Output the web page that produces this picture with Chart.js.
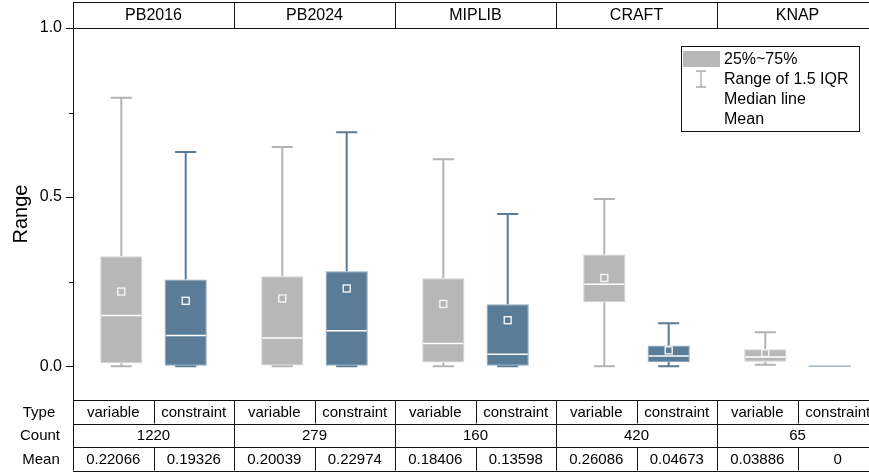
<!DOCTYPE html>
<html>
<head>
<meta charset="utf-8">
<script src="https://cdn.jsdelivr.net/npm/chart.js@4/dist/chart.umd.min.js"></script>
<style>
  html, body { margin: 0; padding: 0; overflow: hidden; background: #fff; }
  canvas { display: block; }
</style>
</head>
<body>
<canvas id="c" width="878" height="474"></canvas>
<script>
// Benchmark sets and the two element types compared in each
const categories = ['PB2016', 'PB2024', 'MIPLIB', 'CRAFT', 'KNAP'];
const types = ['variable', 'constraint'];
const counts = [1220, 279, 160, 420, 65];

// Box statistics for "variable"
const varLow    = [0.000, 0.000, 0.000, 0.000, 0.004];
const varQ1     = [0.009, 0.002, 0.011, 0.189, 0.013];
const varMedian = [0.150, 0.083, 0.067, 0.242, 0.027];
const varQ3     = [0.325, 0.266, 0.260, 0.330, 0.050];
const varHigh   = [0.794, 0.648, 0.612, 0.494, 0.100];
const varMean   = [0.22066, 0.20039, 0.18406, 0.26086, 0.03886];

// Box statistics for "constraint"
const conLow    = [0.000, 0.000, 0.000, 0.000, 0.000];
const conQ1     = [0.000, 0.000, 0.000, 0.012, 0.000];
const conMedian = [0.091, 0.105, 0.035, 0.030, 0.000];
const conQ3     = [0.256, 0.281, 0.183, 0.061, 0.000];
const conHigh   = [0.633, 0.692, 0.450, 0.127, 0.000];
const conMean   = [0.19326, 0.22974, 0.13598, 0.04673, 0];

// Y axis ticks (minor ticks carry empty labels)
const yTickValues = [0, 0.25, 0.5, 0.75, 1.0];
const yTickLabels = ['0.0', '', '0.5', '', '1.0'];

const FONT = '"Liberation Sans", Arial, Helvetica, sans-serif';
const GRAY = '#b7b7b7';
const GRAY_LINE = '#b3b3b3';
const GRAY_EDGE = '#d2d2d2';
const BLUE = '#5a7c97';
const BLUE_LINE = '#5b7b97';
const BLUE_EDGE = '#8ea6b8';

const stats = [
  { low: varLow, q1: varQ1, med: varMedian, q3: varQ3, high: varHigh, mean: varMean, line: GRAY_LINE, edge: GRAY_EDGE },
  { low: conLow, q1: conQ1, med: conMedian, q3: conQ3, high: conHigh, mean: conMean, line: BLUE_LINE, edge: BLUE_EDGE }
];

function px(v) { return Math.round(v) + 0.5; }

const boxExtras = {
  id: 'boxExtras',
  beforeDatasetsDraw(chart) {
    const ctx = chart.ctx, y = chart.scales.y;
    ctx.save();
    stats.forEach((s, di) => {
      const meta = chart.getDatasetMeta(di);
      meta.data.forEach((bar, i) => {
        const x = bar.x, w = bar.width;
        if (s.high[i] === s.low[i]) {
          // degenerate distribution: a single faint line
          ctx.strokeStyle = s.edge;
          ctx.lineWidth = 1.2;
          ctx.beginPath();
          ctx.moveTo(x - w / 2, y.getPixelForValue(s.low[i]));
          ctx.lineTo(x + w / 2, y.getPixelForValue(s.low[i]));
          ctx.stroke();
          return;
        }
        ctx.strokeStyle = s.line;
        ctx.lineWidth = 2;
        const yHi = y.getPixelForValue(s.high[i]);
        const yLo = y.getPixelForValue(s.low[i]);
        const yQ3 = y.getPixelForValue(s.q3[i]);
        const yQ1 = y.getPixelForValue(s.q1[i]);
        ctx.beginPath();
        ctx.moveTo(x, yQ3); ctx.lineTo(x, yHi);
        ctx.moveTo(x, yQ1); ctx.lineTo(x, yLo);
        ctx.moveTo(x - w / 4, yHi); ctx.lineTo(x + w / 4, yHi);
        ctx.moveTo(x - w / 4, yLo); ctx.lineTo(x + w / 4, yLo);
        ctx.stroke();
      });
    });
    ctx.restore();
  },
  afterDatasetsDraw(chart) {
    const ctx = chart.ctx, y = chart.scales.y;
    ctx.save();
    stats.forEach((s, di) => {
      const meta = chart.getDatasetMeta(di);
      meta.data.forEach((bar, i) => {
        if (s.q3[i] === s.q1[i]) return;
        const x = bar.x, w = bar.width;
        // median line
        ctx.strokeStyle = '#ffffff';
        ctx.lineWidth = 1.5;
        const ym = y.getPixelForValue(s.med[i]);
        ctx.beginPath();
        ctx.moveTo(x - w / 2 + 1, ym); ctx.lineTo(x + w / 2 - 1, ym);
        ctx.stroke();
        // mean marker
        const ymean = y.getPixelForValue(s.mean[i]);
        ctx.lineWidth = 1.4;
        ctx.strokeStyle = '#f4f4f4';
        ctx.strokeRect(x - 3.5, ymean - 3.5, 7, 7);
      });
    });
    ctx.restore();
  },
  afterDraw(chart) {
    const ctx = chart.ctx;
    const a = chart.chartArea;
    const left = a.left, right = a.right;
    const step = (right - left) / categories.length;
    const headTop = 2, headBot = a.top;
    const rows = [a.bottom, a.bottom + 23.5, a.bottom + 47, a.bottom + 70.5];

    ctx.save();
    ctx.strokeStyle = '#111';
    ctx.lineWidth = 1;

    // plot frame, header band and table grid
    ctx.beginPath();
    ctx.moveTo(px(left), headTop); ctx.lineTo(px(left), rows[3]);
    [headTop, headBot, rows[0], rows[1], rows[2], rows[3]].forEach(yy => {
      ctx.moveTo(left, px(yy)); ctx.lineTo(right + 2, px(yy));
    });
    for (let k = 1; k <= categories.length; k++) {
      const xb = px(left + k * step);
      ctx.moveTo(xb, headTop); ctx.lineTo(xb, headBot);
      ctx.moveTo(xb, rows[0]); ctx.lineTo(xb, rows[3]);
    }
    for (let k = 0; k < categories.length; k++) {
      const xm = px(left + (k + 0.5) * step);
      ctx.moveTo(xm, rows[0]); ctx.lineTo(xm, rows[1]);
      ctx.moveTo(xm, rows[2]); ctx.lineTo(xm, rows[3]);
    }
    ctx.stroke();

    ctx.fillStyle = '#000';
    ctx.textAlign = 'center';
    ctx.textBaseline = 'middle';

    // panel titles
    ctx.font = '16px ' + FONT;
    categories.forEach((c, k) => {
      ctx.fillText(c, left + (k + 0.5) * step, (headTop + headBot) / 2 + 1);
    });

    // table rows
    ctx.font = '15px ' + FONT;
    const rowMid = r => (rows[r] + rows[r + 1]) / 2 + 1;
    ctx.fillText('Type', 39, rowMid(0));
    ctx.fillText('Count', 40, rowMid(1));
    ctx.fillText('Mean', 41, rowMid(2));
    categories.forEach((c, k) => {
      const x0 = left + k * step;
      ctx.fillText(types[0], x0 + step * 0.25, rowMid(0));
      ctx.fillText(types[1], x0 + step * 0.75, rowMid(0));
      ctx.fillText(String(counts[k]), x0 + step * 0.5, rowMid(1));
      ctx.fillText(String(varMean[k]), x0 + step * 0.25, rowMid(2));
      ctx.fillText(String(conMean[k]), x0 + step * 0.75, rowMid(2));
    });

    // legend
    const lx = 681, ly = 46, lw = 178, lh = 85;
    ctx.fillStyle = '#fff';
    ctx.fillRect(lx, ly, lw, lh);
    ctx.strokeStyle = '#111';
    ctx.strokeRect(px(lx), px(ly), lw, lh);
    ctx.fillStyle = GRAY;
    ctx.fillRect(683, 51, 37, 16);
    ctx.strokeStyle = '#aaaaaa';
    ctx.lineWidth = 1.3;
    ctx.beginPath();
    ctx.moveTo(701, 71); ctx.lineTo(701, 87);
    ctx.moveTo(696, 71); ctx.lineTo(706, 71);
    ctx.moveTo(696, 87); ctx.lineTo(706, 87);
    ctx.stroke();
    ctx.fillStyle = '#000';
    ctx.textAlign = 'left';
    ctx.font = '16px ' + FONT;
    ['25%~75%', 'Range of 1.5 IQR', 'Median line', 'Mean'].forEach((t, j) => {
      ctx.fillText(t, 724, 60 + j * 20);
    });

    // minor y ticks
    const y = chart.scales.y;
    ctx.strokeStyle = '#111';
    ctx.lineWidth = 1;
    ctx.beginPath();
    [0.25, 0.75].forEach(v => {
      const yy = px(y.getPixelForValue(v));
      ctx.moveTo(left - 4, yy); ctx.lineTo(left, yy);
    });
    ctx.stroke();
    ctx.restore();
  }
};

new Chart(document.getElementById('c'), {
  type: 'bar',
  data: {
    labels: categories,
    datasets: [
      {
        label: types[0],
        data: varQ1.map((q, i) => [q, varQ3[i]]),
        backgroundColor: GRAY,
        borderColor: GRAY_EDGE,
        borderWidth: 1,
        borderSkipped: false
      },
      {
        label: types[1],
        data: conQ1.map((q, i) => [q, conQ3[i]]),
        backgroundColor: BLUE,
        borderColor: BLUE_EDGE,
        borderWidth: 1,
        borderSkipped: false
      }
    ]
  },
  options: {
    responsive: false,
    animation: false,
    events: [],
    layout: { padding: { top: 28, bottom: 74, left: 0, right: 0 } },
    categoryPercentage: 0.8,
    barPercentage: 0.655,
    plugins: {
      legend: { display: false },
      tooltip: { enabled: false },
      title: { display: false }
    },
    scales: {
      x: { display: false, offset: true },
      y: {
        min: -0.1,
        max: 1.0,
        afterBuildTicks: scale => { scale.ticks = yTickValues.map(v => ({ value: v })); },
        afterFit: scale => { scale.width = 73; },
        ticks: {
          autoSkip: false,
          padding: 4,
          color: '#000',
          font: { family: FONT, size: 16 },
          callback: (v, i) => yTickLabels[i]
        },
        grid: {
          drawOnChartArea: false,
          drawTicks: true,
          tickLength: 7,
          tickColor: ctx => (yTickLabels[ctx.index] === '' ? 'rgba(0,0,0,0)' : '#111'),
          tickWidth: 1
        },
        border: { display: true, color: '#111', width: 1 },
        title: {
          display: true,
          text: 'Range',
          color: '#000',
          font: { family: FONT, size: 20 },
          padding: { top: 9, bottom: 0 }
        }
      }
    }
  },
  plugins: [boxExtras]
});
</script>
</body>
</html>
